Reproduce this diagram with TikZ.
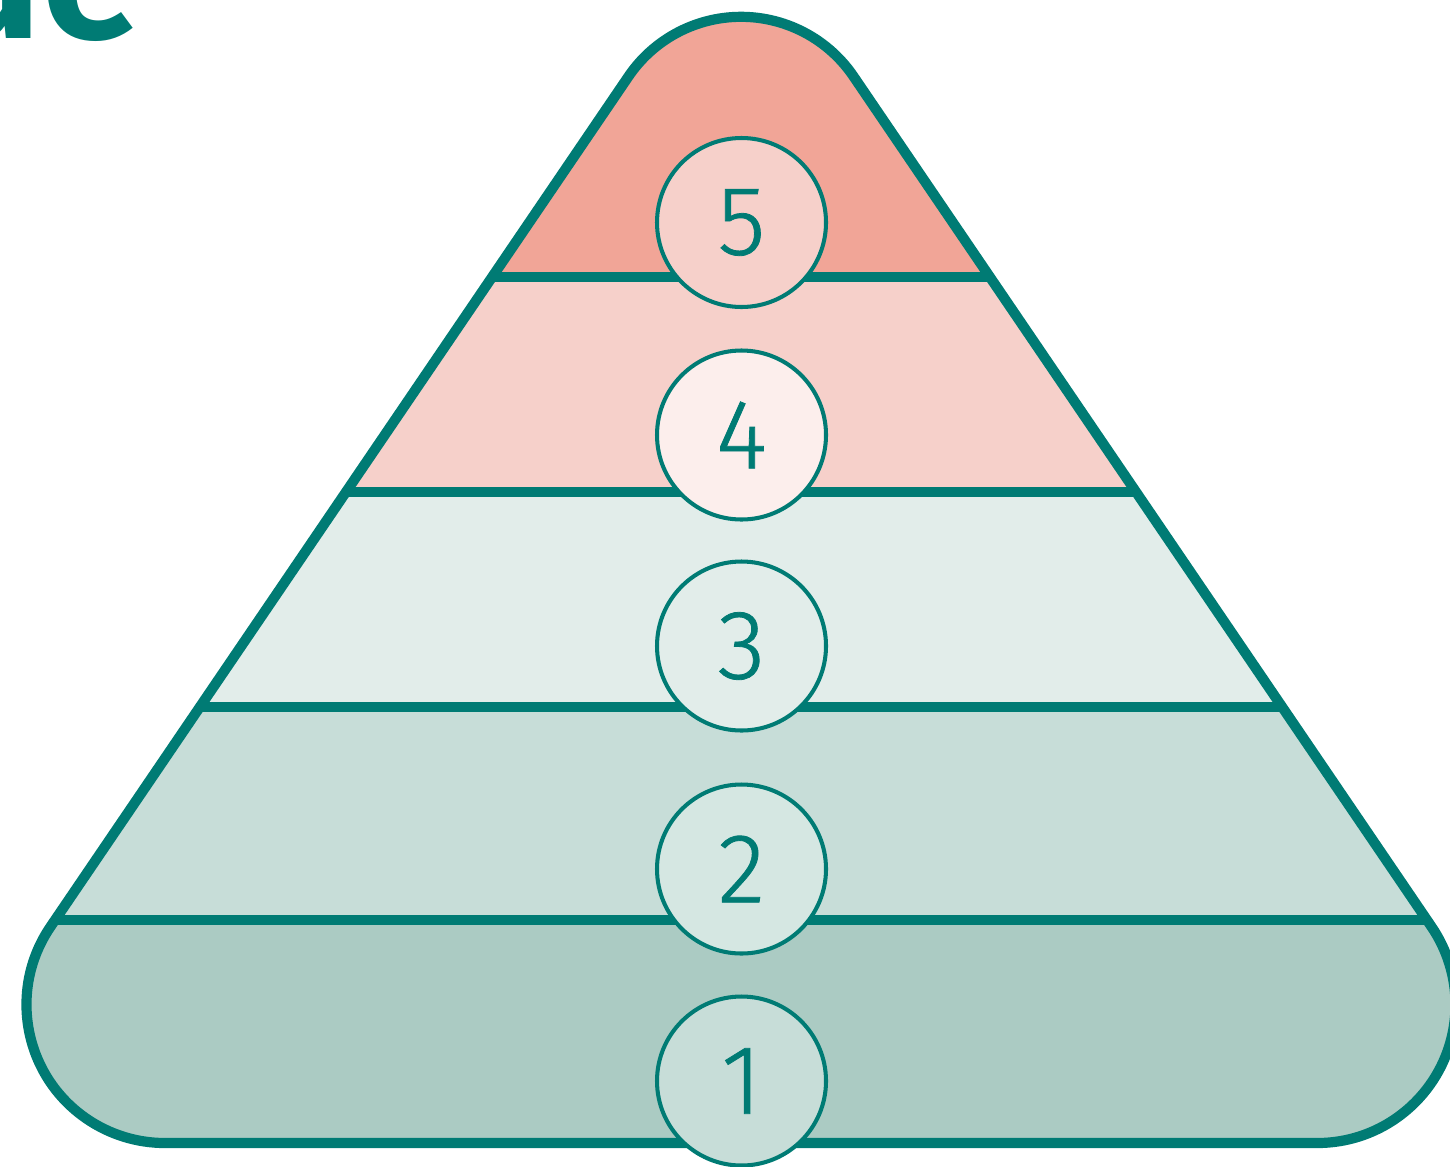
\documentclass[tikz,border=0pt]{standalone}
\usepackage{fontspec}
\setmainfont{Fira Sans}
\newfontfamily\numfont[BoldFont={Fira Sans Light}, BoldFeatures={FakeBold=0.8}]{Fira Sans Light}
\definecolor{teal}{HTML}{007B74}
\definecolor{bandA}{HTML}{F1A597}
\definecolor{bandB}{HTML}{F6D0CA}
\definecolor{bandC}{HTML}{E2EDEA}
\definecolor{bandD}{HTML}{C7DDD8}
\definecolor{bandE}{HTML}{ABCBC3}
\definecolor{circB}{HTML}{FCEEEC}
\definecolor{circD}{HTML}{D5E7E2}
\def\PyrPath{(0.5046,-9.2675) arc[start angle=145.77,end angle=270,radius=1.384] -- (13.171,-11.43) arc[start angle=270,end angle=394.23,radius=1.384] -- (8.5345,-0.763) arc[start angle=34.23,end angle=145.77,radius=1.36] -- cycle}
\tikzset{
  outline/.style={draw=teal, line width=2.9pt, line join=round},
  divider/.style={draw=teal, line width=2.9pt},
  numcirc/.style={circle, draw=teal, line width=1.15pt, minimum size=1.69cm, inner sep=0pt,
    text=teal, font=\numfont\bfseries\fontsize{28}{32}\selectfont},
  titletext/.style={text=teal, inner sep=0pt, font=\fontsize{51}{56}\selectfont\bfseries}
}
\begin{document}
\begin{tikzpicture}
\useasboundingbox (0,0) rectangle (14.5,-11.66);
\clip (0,0) rectangle (14.5,-11.66);
\node[titletext, anchor=base east] (title) at (1.42,-0.39) {ue};
\begin{scope}
  \clip \PyrPath;
  \fill[bandA] (-1,1) rectangle (16,-2.77);
  \fill[bandB] (-1,-2.77) rectangle (16,-4.92);
  \fill[bandC] (-1,-4.92) rectangle (16,-7.07);
  \fill[bandD] (-1,-7.07) rectangle (16,-9.20);
  \fill[bandE] (-1,-9.20) rectangle (16,-12);
  \coordinate (d1l) at (-1,-2.77); \coordinate (d1r) at (16,-2.77);
  \coordinate (d2l) at (-1,-4.92); \coordinate (d2r) at (16,-4.92);
  \coordinate (d3l) at (-1,-7.07); \coordinate (d3r) at (16,-7.07);
  \coordinate (d4l) at (-1,-9.20); \coordinate (d4r) at (16,-9.20);
  \draw[divider] (d1l) -- (d1r);
  \draw[divider] (d2l) -- (d2r);
  \draw[divider] (d3l) -- (d3r);
  \draw[divider] (d4l) -- (d4r);
\end{scope}
\draw[outline] \PyrPath;
\node[numcirc, fill=bandB] (n5) at (7.415,-2.225) {5};
\node[numcirc, fill=circB] (n4) at (7.415,-4.35) {4};
\node[numcirc, fill=bandC] (n3) at (7.415,-6.46) {3};
\node[numcirc, fill=circD] (n2) at (7.415,-8.69) {2};
\node[numcirc, fill=bandD] (n1) at (7.415,-10.81) {1};
\end{tikzpicture}
\end{document}
